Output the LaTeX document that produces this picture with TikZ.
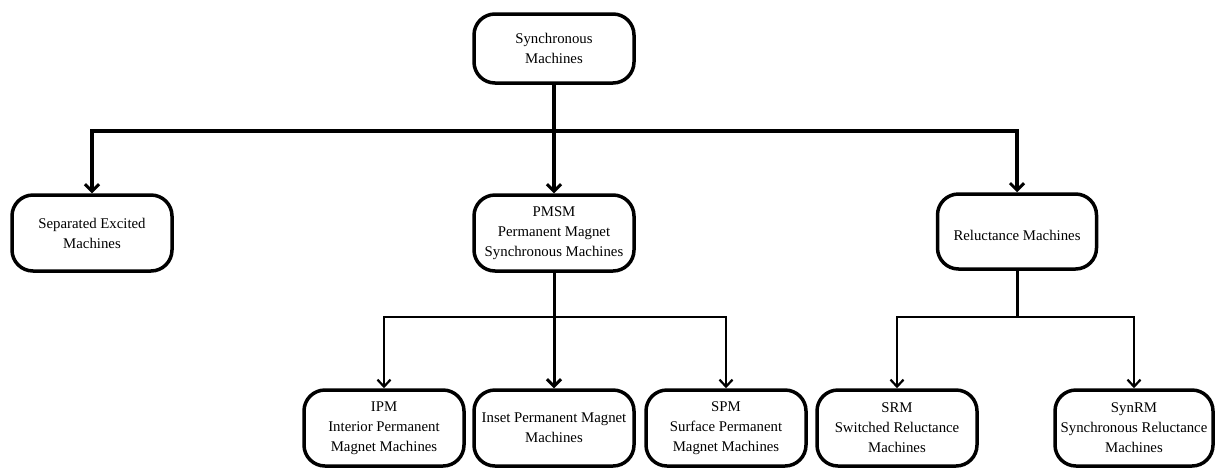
\documentclass[tikz,border=0pt]{standalone}
\usepackage{fontspec}
\setmainfont{Liberation Serif}
\usetikzlibrary{arrows.meta}

\begin{document}
\begin{tikzpicture}[x=1pt, y=-1pt,
	box/.style={shape=rectangle, draw=black, line width=3.5pt, rounded corners=21pt,
		minimum width=160pt, minimum height=76pt, align=center, inner sep=2pt,
		font=\fontsize{14.8}{20}\selectfont,
		execute at begin node={\rule{0pt}{18pt}}},
	bigarr/.style={line width=3.5pt, -{Straight Barb[length=7pt, width=14pt, line width=3pt]}},
	smallarr/.style={line width=2.2pt, -{Straight Barb[length=7pt, width=13pt, line width=2.2pt]}}]
	
	\useasboundingbox (0, 0) rectangle (1215, 467);
	
	\node[box, minimum height=69pt] (sm) at (554, 48.5) {Synchronous\\Machines};
	\node[box] (sem) at (92, 233) {Separated Excited\\Machines};
	\node[box] (pmsm) at (554, 233) {PMSM\\Permanent Magnet\\Synchronous Machines};
	\node[box, minimum height=75pt, minimum width=159pt] (rm) at (1017, 231.5) {Reluctance Machines};
	\node[box] (ipm) at (384, 428) {IPM\\Interior Permanent\\Magnet Machines};
	\node[box] (ins) at (554, 428) {Inset Permanent Magnet\\Machines};
	\node[box] (spm) at (726, 428) {SPM\\Surface Permanent\\Magnet Machines};
	\node[box] (srm) at (897, 428) {SRM\\Switched Reluctance\\Machines};
	\node[box, minimum width=158pt] (synrm) at (1134, 428) {SynRM\\Synchronous Reluctance\\Machines};
	
	\coordinate (j1) at (554, 131);
	\coordinate (j2) at (554, 317);
	\coordinate (j3) at (1017, 317);
	
	\draw[line width=3.5pt] (sm) -- (j1);
	\draw[bigarr] (j1) -| (sem);
	\draw[bigarr] (j1) -- (pmsm);
	\draw[bigarr] (j1) -| (rm);
	
	\draw[line width=3pt] (pmsm) -- (j2);
	\draw[smallarr] (j2) -| (ipm);
	\draw[bigarr, line width=3pt] (j2) -- (ins);
	\draw[smallarr] (j2) -| (spm);
	
	\draw[line width=3pt] (rm) -- (j3);
	\draw[smallarr] (j3) -| (srm);
	\draw[smallarr] (j3) -| (synrm);
	
\end{tikzpicture}
\end{document}
